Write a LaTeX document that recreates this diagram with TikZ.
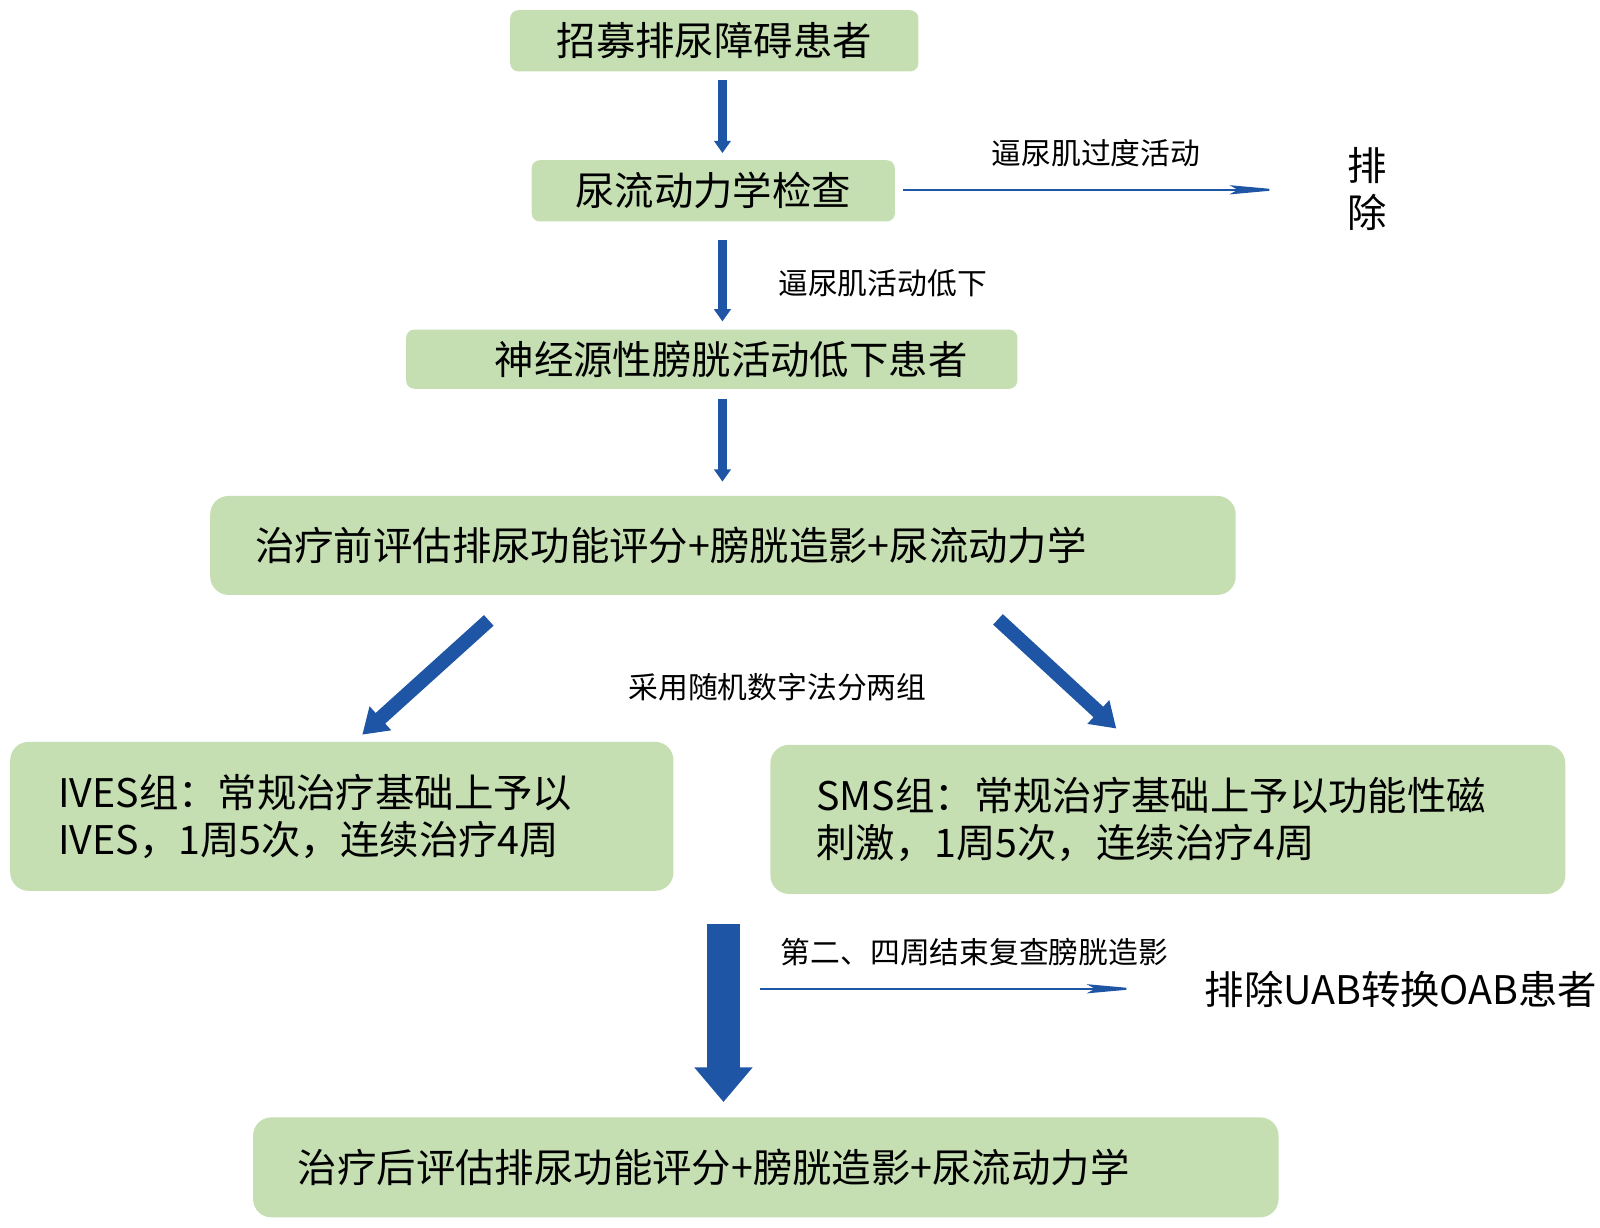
\documentclass[tikz,border=0pt]{standalone}
\usepackage{fontspec}
\usepackage{xcolor}
\usetikzlibrary{arrows.meta,calc}
\newfontfamily\cjk{Noto Sans CJK SC}
\definecolor{boxgreen}{RGB}{197,223,179}
\definecolor{flowblue}{RGB}{31,85,165}

\tikzset{
  stepbox/.style={fill=boxgreen, rounded corners=4pt, inner sep=0pt, outer sep=0pt,
    font=\cjk\fontsize{19.3}{23}\selectfont},
  widebox/.style={stepbox, rounded corners=9pt, align=left},
  note/.style={font=\cjk\fontsize{14.6}{17}\selectfont},
  bignote/.style={font=\cjk\fontsize{19.3}{23}\selectfont, align=center},
  flow/.style={draw=flowblue, line width=4.5pt, -{Triangle[width=8pt,length=6pt]}},
  slant/.style={draw=flowblue, line width=7pt, -{Triangle[width=15pt,length=12pt]}},
  bigflow/.style={draw=flowblue, line width=16pt, -{Triangle[width=27.5pt,length=17pt]}},
  side/.style={draw=flowblue, line width=1pt, -{Stealth[width=4.5pt,length=25pt,inset=4pt]}}
}

\begin{document}
\begin{tikzpicture}[x=0.5pt,y=-0.5pt]
  \useasboundingbox (0,0) rectangle (1568,1203);

  % boxes
  \node[stepbox, minimum width=200pt, minimum height=30pt] (recruit) at (700,40) {招募排尿障碍患者};
  \node[stepbox, minimum width=178pt, minimum height=30pt] (urodyn) at (699,187) {尿流动力学检查};
  \node[stepbox, minimum width=299.5pt, minimum height=29pt] (nub) at (697.5,352) {\hspace{19pt}神经源性膀胱活动低下患者};
  \node[widebox, text width=458.5pt, inner xsep=22pt, minimum height=48.5pt] (pre) at (708.5,534.5)
    {治疗前评估排尿功能评分+膀胱造影+尿流动力学};
  \node[widebox, text width=278pt, inner xsep=23.5pt, minimum height=73pt] (ives) at (335,800)
    {IVES组：常规治疗基础上予以\\IVES，1周5次，连续治疗4周};
  \node[widebox, text width=344.5pt, inner xsep=22.5pt, minimum height=73pt] (sms) at (1144.5,803)
    {SMS组：常规治疗基础上予以功能性磁\\刺激，1周5次，连续治疗4周};
  \node[widebox, text width=458.5pt, inner xsep=22pt, minimum height=49pt] (post) at (750.5,1144)
    {治疗后评估排尿功能评分+膀胱造影+尿流动力学};

  % side texts
  \node[note] (overact) at (1074,150) {逼尿肌过度活动};
  \node[bignote] (exclA) at (1340,185) {排\\除};
  \node[note] (lowact) at (865,278) {逼尿肌活动低下};
  \node[note] (random) at (762,673) {采用随机数字法分两组};
  \node[note] (recheck) at (955,933) {第二、四周结束复查膀胱造影};
  \node[bignote] (exclB) at (1373,970) {排除UAB转换OAB患者};

  \coordinate (exclAend) at (1255,186);
  \coordinate (split) at (709,906);
  \coordinate (recheckstart) at (745,969);
  \coordinate (recheckend) at (1115,969);

  % arrows
  \draw[flow] ($(recruit.south)+(8,8)$) -- ($(urodyn.north)+(9,-7)$);
  \draw[flow] ($(urodyn.south)+(9,18)$) -- ($(nub.north)+(10.5,-8)$);
  \draw[flow] ($(nub.south)+(10.5,10)$) -- ($(pre.north)+(-0.5,-14)$);
  \draw[slant] ($(pre.south west)+(273,25)$) -- ($(ives.north west)+(345,-7)$);
  \draw[slant] ($(pre.south east)+(-233,24)$) -- ($(sms.north west)+(339,-16)$);
  \draw[bigflow] (split) -- ($(split |- post.north)+(0,-15)$);
  \draw[side] ($(urodyn.east)+(8,-1)$) -- (exclAend);
  \draw[side] (recheckstart) -- (recheckend);
\end{tikzpicture}
\end{document}
